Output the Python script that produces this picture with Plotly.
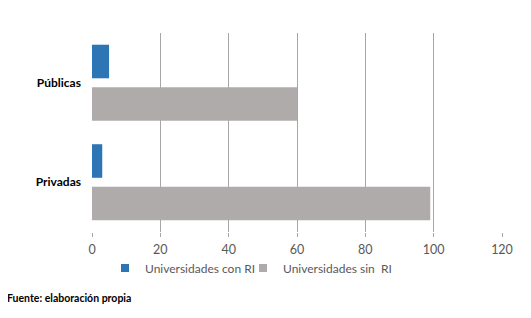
import plotly.graph_objects as go

categories = ["Públicas", "Privadas"]
con_ri = [5, 3]
sin_ri = [60, 99]
x_ticks = [0, 20, 40, 60, 80, 100, 120]
series_names = ["Universidades con RI", "Universidades sin\u00a0 RI"]
colors = ["#2E75B6", "#AFABAB"]
source_note = "Fuente: elaboración propia"

# page body has an 8px margin, so the figure is drawn 8px in and sized to fit
W, H = 523, 310
L, T = 84, 25
PW, PH = 410, 199

fig = go.Figure()
for vals, name, col in zip([con_ri, sin_ri], series_names, colors):
    fig.add_trace(go.Bar(y=categories, x=vals, orientation="h", name=name, showlegend=False,
                         marker=dict(color=col, line=dict(width=0))))
for i, (name, col) in enumerate(zip(series_names, colors)):
    fig.add_trace(go.Scatter(x=[None], y=[None], mode="markers", name=name,
                             legend="legend" if i == 0 else "legend2",
                             marker=dict(symbol="square", size=8, color=col)))

leg_common = dict(orientation="h", xanchor="left", y=-(260 - T - PH) / PH, yanchor="middle",
                  font=dict(size=12, color="#595959"), itemwidth=30,
                  bgcolor="rgba(0,0,0,0)")

fig.update_layout(
    width=W, height=H,
    margin=dict(l=L, r=W - L - PW, t=T, b=H - T - PH, autoexpand=False),
    paper_bgcolor="white", plot_bgcolor="white",
    barmode="group", bargap=0.146, bargroupgap=0.21,
    font=dict(family="Lato, Open Sans, sans-serif", size=12, color="#595959"),
    xaxis=dict(range=[0, 120], tickvals=x_ticks, showgrid=True, gridcolor="#A6A6A6",
               gridwidth=1, zeroline=False, showline=False, ticks="outside", ticklen=4,
               tickcolor="#A6A6A6", tickfont=dict(size=12.5, color="#595959"), fixedrange=True,
               ticklabelstandoff=2, automargin=False),
    yaxis=dict(autorange="reversed", showgrid=False, zeroline=False, showline=False,
               ticklabelstandoff=10, automargin=False,
               tickfont=dict(size=12, color="#000000", family="Lato, Open Sans, sans-serif", weight="bold")),
    legend=dict(x=(97 - L) / PW, **leg_common),
    legend2=dict(x=(235 - L) / PW, **leg_common),
    showlegend=True,
)
fig.add_annotation(text=source_note, xref="paper", yref="paper", x=-(L - (-3)) / PW,
                   y=-(290 - T - PH) / PH, xanchor="left", yanchor="middle", showarrow=False,
                   font=dict(size=10.5, color="#000000", weight="bold"))

fig.write_html("out.html")
